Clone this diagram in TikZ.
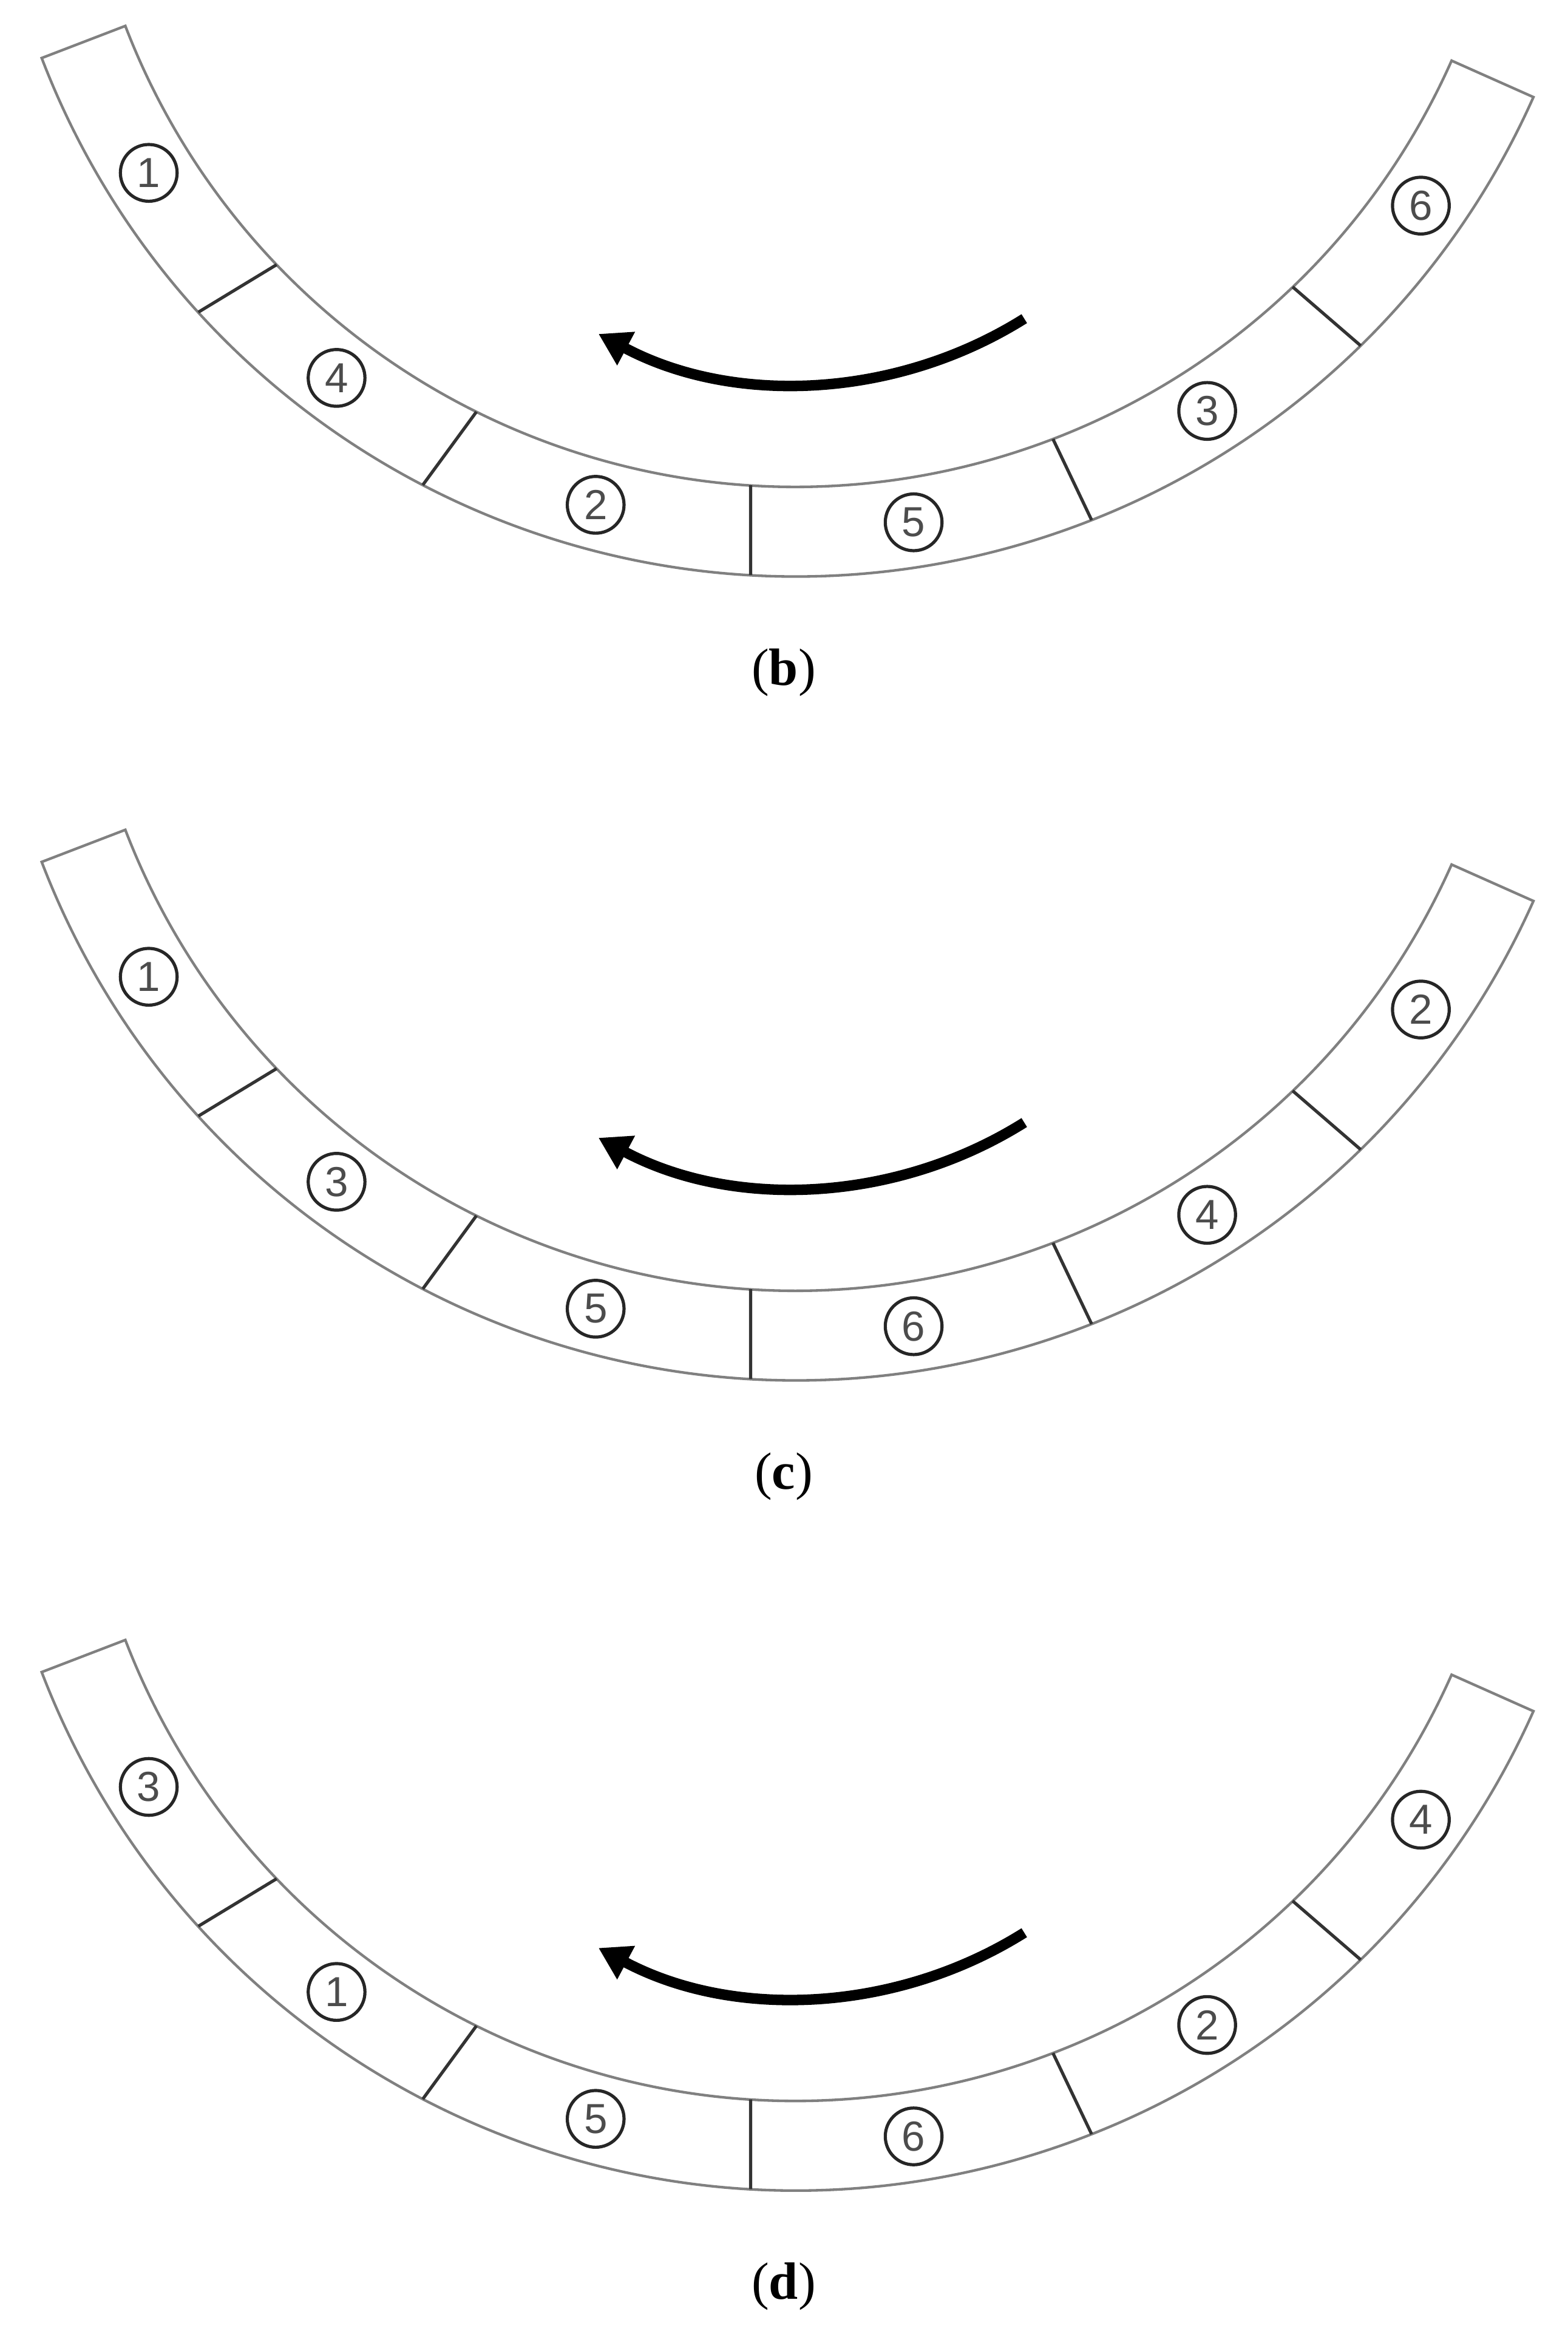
\documentclass[tikz,border=0pt]{standalone}
\usepackage{fontspec}
\setmainfont{Liberation Serif}
\newfontfamily\numfont{Liberation Sans}
\usetikzlibrary{arrows.meta}

\begin{document}
\begin{tikzpicture}[
  rim/.style={draw=black!50, line width=0.5pt},
  cut/.style={draw=black!80, line width=0.6pt},
  num/.style={circle, draw=black!85, line width=0.6pt, minimum size=0.38cm, inner sep=0pt,
    font=\numfont\fontsize{8}{8}\selectfont, text=black!70},
  turn/.style={line width=2pt, -{Triangle[length=2.1mm,width=2.4mm]}},
  caption/.style={font=\fontsize{10}{12}\selectfont}
]
\useasboundingbox (0,0) rectangle (10.5,-15.632);
\def\rin{4.81}
\def\rout{5.41}
\foreach \dy/\pn/\na/\nb/\nc/\nd/\ne/\nf [count=\k] in
  {0/b/1/4/2/5/3/6, 5.384/c/1/3/5/6/4/2, 10.81/d/3/1/5/6/2/4}{
\begin{scope}[shift={(0,-\dy)}]
\coordinate (O\k) at (5.33,1.55);
\coordinate (A\k) at (5.347,0.28);
%Ring:
\draw [rim] ([shift={(201:\rout)}]O\k) arc[start angle=201, end angle=336, radius=\rout]
  -- ([shift={(336:\rin)}]O\k) arc[start angle=336, end angle=201, radius=\rin] -- cycle;
%Joints:
\foreach \a/\b in {223.7/222.3,243.6/242.5,266.4/266.8,291/291.5,313.8/314.4}
  \draw [cut] ([shift={(\a:\rin)}]O\k) -- ([shift={(\b:\rout)}]O\k);
%Pieces:
\foreach \a/\t in {212/\na,233/\nb,254.8/\nc,278.9/\nd,302.65/\ne,325.05/\nf}
  \node (n\k\t) [num] at ([shift={(\a:5.11)}]O\k) {\t};
%Turning direction:
\coordinate (tail\k) at ([shift={(302.1:2.85)}]A\k);
\draw [turn] (tail\k) arc[start angle=302.1, end angle=242, radius=2.85];
\node (cap\k) [caption] at (5.25,-4.505) {(\textbf{\pn})};
\end{scope}
}
\end{tikzpicture}
\end{document}
